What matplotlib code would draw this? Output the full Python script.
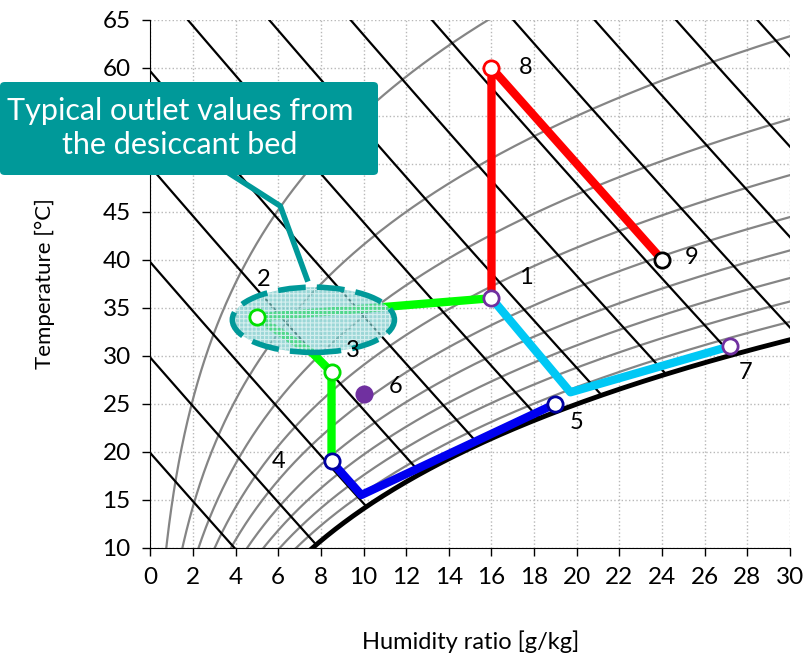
import numpy as np
import matplotlib
matplotlib.use("Agg")
import matplotlib.pyplot as plt
from matplotlib.patches import Ellipse, FancyBboxPatch

plt.rcParams['font.family'] = ['Lato', 'DejaVu Sans']

# state points: humidity ratio [g/kg], temperature [C]
point_ids = ['1', '2', '3', '4', '5', '6', '7', '8', '9']
point_w = [16.0, 5.0, 8.5, 8.5, 19.0, 10.0, 27.2, 16.0, 24.0]
point_t = [36.0, 34.0, 28.3, 19.0, 25.0, 26.0, 31.0, 60.0, 40.0]
point_edge = ['#7030A0', '#00E000', '#00E000', '#0000A0', '#0000A0',
              '#7030A0', '#7030A0', '#FF0000', '#000000']
label_w = [17.6, 5.3, 9.5, 6.0, 20.0, 11.5, 27.9, 17.6, 25.4]
label_t = [38.2, 37.9, 30.6, 19.0, 23.1, 26.8, 28.3, 60.0, 40.2]

# process paths
red_w = [16.0, 16.0, 24.0]
red_t = [36.0, 60.0, 40.0]
green_w = [16.0, 5.0, 7.6, 8.5, 8.5]
green_t = [36.0, 34.0, 30.3, 28.3, 19.0]
blue_w = [8.5, 9.9, 19.0]
blue_t = [19.0, 15.5, 25.0]
cyan_w = [16.0, 19.7, 27.2]
cyan_t = [36.0, 26.2, 31.0]

rh_levels = [0.1, 0.2, 0.3, 0.4, 0.5, 0.6, 0.7, 0.8, 0.9]
h_levels = list(range(20, 150, 10))

P = 101.325


def p_sat(t):
    return 0.61094 * np.exp(17.625 * t / (t + 243.04))


def w_of(t, phi):
    pv = phi * p_sat(t)
    return 622.0 * pv / (P - pv)


fig = plt.figure(figsize=(8.12, 6.6), dpi=100)
ax = fig.add_axes([0.185, 0.170, 0.788, 0.800])

T = np.linspace(0, 70, 700)
wsat = w_of(T, 1.0)

for phi in rh_levels:
    ax.plot(w_of(T, phi), T, color='#858585', lw=1.6, zorder=2)

for h in h_levels:
    w = (h - 1.006 * T) / (2.501 + 0.00186 * T)
    w = np.where((w >= 0) & (w <= wsat), w, np.nan)
    ax.plot(w, T, color='black', lw=1.6, zorder=2)

ax.plot(wsat, T, color='black', lw=3.5, zorder=3)

lw_path = 6
ax.plot(red_w, red_t, color='#FF0000', lw=lw_path, zorder=4, solid_capstyle='butt')
ax.plot(green_w, green_t, color='#00FF00', lw=lw_path, zorder=4)
ax.plot(blue_w, blue_t, color='#0000F0', lw=lw_path, zorder=4)
ax.plot(cyan_w, cyan_t, color='#00C8F5', lw=lw_path, zorder=4)

# desiccant bed outlet region
plt.rcParams['hatch.linewidth'] = 0.8
fill = Ellipse((7.65, 33.75), 7.6, 6.8, facecolor=(0.45, 0.78, 0.78, 0.7),
               edgecolor='#D5EFEF', hatch='++++', lw=0, zorder=5)
ax.add_patch(fill)
edge = Ellipse((7.65, 33.75), 7.6, 6.8, facecolor='none',
               edgecolor='#009999', lw=4, ls=(0, (5, 2)), zorder=6)
ax.add_patch(edge)

for i in range(len(point_ids)):
    face = '#7030A0' if point_ids[i] == '6' else 'white'
    ax.plot(point_w[i], point_t[i], 'o', ms=11, mfc=face, mec=point_edge[i],
            mew=2, zorder=7)
    ax.text(label_w[i], label_t[i], point_ids[i], fontsize=17,
            ha='center', va='center', zorder=8)

ax.set_xlim(0, 30)
ax.set_ylim(10, 65)
ax.set_xticks(range(0, 31, 2))
ax.set_yticks(range(10, 66, 5))
ax.tick_params(labelsize=17.5, length=6, width=1, pad=8)
ax.grid(True, color='#b8b8b8', ls=':', lw=1)
ax.set_axisbelow(True)
for s in ['top', 'right']:
    ax.spines[s].set_visible(False)

ax.set_xlabel('Humidity ratio [g/kg]', fontsize=17, labelpad=30)
ax.set_ylabel('Temperature [°C]', fontsize=16, labelpad=34)

# callout
fig.patches.append(FancyBboxPatch((0.0, 1 - 175 / 660), 378 / 812, 93 / 660,
                                  boxstyle='round,pad=0,rounding_size=0.006',
                                  transform=fig.transFigure, facecolor='#009999',
                                  edgecolor='none', zorder=10))
fig.text(180 / 812, 1 - 128 / 660, 'Typical outlet values from\nthe desiccant bed',
         color='white', fontsize=22, ha='center', va='center',
         linespacing=1.25, zorder=11)
ax.plot([1.25, 6.1, 7.35], [52.5, 45.6, 38.0], color='#009999', lw=4,
        zorder=9, clip_on=False)

fig.savefig('out.png', dpi=100)
